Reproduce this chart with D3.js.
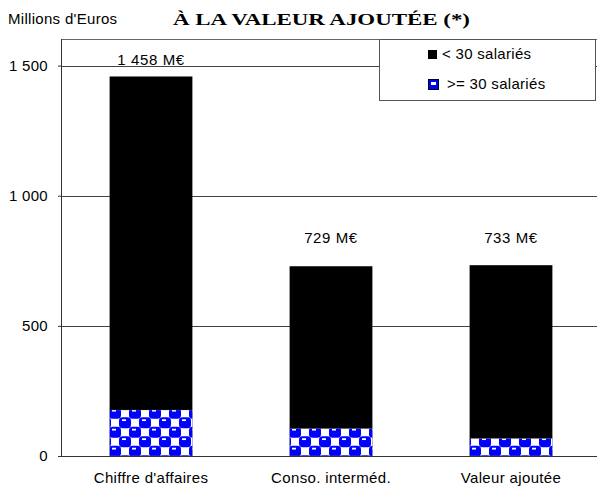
<!DOCTYPE html>
<html>
<head>
<meta charset="utf-8">
<script src="https://cdn.jsdelivr.net/npm/d3@7"></script>
<style>
  body { margin: 0; background: #fff; }
</style>
</head>
<body>
<div id="chart"></div>
<script>
// data
const categories = ["Chiffre d'affaires", "Conso. interméd.", "Valeur ajoutée"];
const small = [1281, 623, 665];   // < 30 salariés
const large = [177, 106, 68];     // >= 30 salariés
const totals = ["1 458 M€", "729 M€", "733 M€"];
const yTicks = [0, 500, 1000, 1500];

const width = 597, height = 486;
const sans = 'Arial, "Liberation Sans", sans-serif';
const svg = d3.select('#chart').append('svg')
  .attr('width', width)
  .attr('height', height)
  .style('font-family', sans);

// checker pattern for the >= 30 segment
const defs = svg.append('defs');
const pat = defs.append('pattern')
  .attr('id', 'checker')
  .attr('patternUnits', 'userSpaceOnUse')
  .attr('width', 20).attr('height', 19);
pat.append('rect').attr('width', 20).attr('height', 19).attr('fill', '#fff');
// blue blobs on a checkerboard, with the wrap-around copies
[[5, 4.75], [15, 14.25], [-5, 14.25], [15, -4.75], [25, 4.75], [5, 23.75]].forEach(([cx, cy]) => {
  pat.append('rect').attr('x', cx - 6).attr('y', cy - 5.5).attr('width', 12).attr('height', 11)
    .attr('rx', 3.5).attr('fill', '#0000ff');
});
[[5, 4.75], [15, 14.25]].forEach(([cx, cy]) => {
  pat.append('rect').attr('x', cx - 3).attr('y', cy - 3.5).attr('width', 4).attr('height', 1.8).attr('fill', '#fff');
});

const mLeft = 61, mRight = 601, mTop = 39, mBottom = 456;

const x = d3.scaleBand()
  .domain(categories)
  .range([mLeft, mRight])
  .paddingInner(0.54)
  .paddingOuter(0.27);

const y = d3.scaleLinear()
  .domain([0, 1602])
  .range([mBottom, mTop]);

// gridlines
svg.append('g')
  .selectAll('line')
  .data(yTicks.filter(d => d > 0))
  .enter().append('line')
  .attr('x1', mLeft).attr('x2', 597)
  .attr('y1', d => Math.round(y(d)) + 0.5).attr('y2', d => Math.round(y(d)) + 0.5)
  .attr('stroke', '#444').attr('stroke-width', 1);

// top border
svg.append('line')
  .attr('x1', mLeft).attr('x2', 597)
  .attr('y1', mTop + 0.5).attr('y2', mTop + 0.5)
  .attr('stroke', '#666');

// bars
const data = categories.map((c, i) => ({ c, small: small[i], large: large[i], label: totals[i] }));

svg.append('g').selectAll('rect')
  .data(data)
  .enter().append('rect')
  .attr('x', d => x(d.c))
  .attr('width', x.bandwidth())
  .attr('y', d => y(d.large))
  .attr('height', d => y(0) - y(d.large))
  .attr('fill', 'url(#checker)')
  .attr('stroke', '#777').attr('stroke-width', 0.5);

svg.append('g').selectAll('rect')
  .data(data)
  .enter().append('rect')
  .attr('x', d => x(d.c))
  .attr('width', x.bandwidth())
  .attr('y', d => y(d.large + d.small))
  .attr('height', d => y(d.large) - y(d.large + d.small))
  .attr('fill', '#000');

// value labels
svg.append('g').selectAll('text')
  .data(data)
  .enter().append('text')
  .attr('x', d => x(d.c) + x.bandwidth() / 2)
  .attr('y', (d, i) => i === 0 ? 65 : 243)
  .attr('text-anchor', 'middle')
  .attr('font-size', 15)
  .attr('letter-spacing', 0.6)
  .text(d => d.label);

// axes
const fmt = d => d3.format(',')(d).replace(',', ' ');
const yAxis = svg.append('g')
  .attr('transform', `translate(${mLeft},0)`)
  .call(d3.axisLeft(y).tickValues(yTicks).tickSize(3).tickFormat(fmt));
yAxis.select('.domain').attr('stroke', '#333').attr('d', `M0.5,${mTop}V${mBottom}`);
yAxis.selectAll('.tick line').attr('stroke', '#333');
yAxis.selectAll('.tick text')
  .attr('font-size', 15)
  .attr('font-family', sans)
  .attr('letter-spacing', 0.3)
  .attr('fill', '#000')
  .attr('x', -13);

const xAxis = svg.append('g')
  .attr('transform', `translate(0,${mBottom})`)
  .call(d3.axisBottom(x).tickSize(0));
xAxis.select('.domain').attr('stroke', '#333').attr('d', `M${mLeft},0.5H597`);
xAxis.selectAll('.tick text')
  .attr('font-size', 15)
  .attr('font-family', sans)
  .attr('letter-spacing', 0.35)
  .attr('fill', '#000')
  .attr('y', 27).attr('dy', 0);

// titles
svg.append('text')
  .attr('x', 8).attr('y', 24)
  .attr('font-size', 15)
  .attr('letter-spacing', 0.3)
  .text("Millions d'Euros");

svg.append('text')
  .attr('x', 173).attr('y', 25)
  .attr('font-family', '"Liberation Serif", "Times New Roman", serif')
  .attr('font-weight', 'bold')
  .attr('font-size', 16)
  .attr('textLength', 297)
  .attr('lengthAdjust', 'spacingAndGlyphs')
  .text('À LA VALEUR AJOUTÉE (*)');

// legend
const lg = svg.append('g').attr('transform', 'translate(379,39)');
lg.append('rect')
  .attr('x', 0.5).attr('y', 0.5).attr('width', 216).attr('height', 61)
  .attr('fill', '#fff').attr('stroke', '#555');
lg.append('rect').attr('x', 49).attr('y', 11).attr('width', 9).attr('height', 9).attr('fill', '#000');
lg.append('text').attr('x', 63).attr('y', 20).attr('font-size', 15).attr('letter-spacing', 0.3).text('< 30 salariés');
lg.append('rect').attr('x', 49.5).attr('y', 40.5).attr('width', 10).attr('height', 10)
  .attr('fill', '#0000ff').attr('stroke', '#000').attr('stroke-width', 1);
lg.append('rect').attr('x', 52).attr('y', 43).attr('width', 5).attr('height', 3).attr('fill', '#fff');
lg.append('text').attr('x', 68).attr('y', 50).attr('font-size', 15).attr('letter-spacing', 0.3).text('>= 30 salariés');
</script>
</body>
</html>
